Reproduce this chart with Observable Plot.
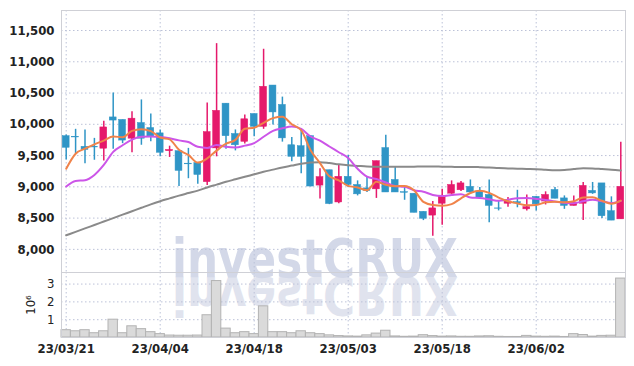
<!DOCTYPE html>
<html><head><meta charset="utf-8">
<script src="https://cdn.jsdelivr.net/npm/d3@7"></script>
<script src="https://cdn.jsdelivr.net/npm/@observablehq/plot@0.6"></script>
<style>
body{margin:0;background:#fff;}
#wrap{position:relative;width:634px;height:366px;overflow:hidden;}
#wm{position:absolute;left:0;top:0;}
#charts{position:absolute;left:0;top:0;}
#charts svg{display:block}
</style></head><body>
<div id="wrap">
<svg id="wm" width="634" height="366">
  <text id="wmtext" x="315" y="277" text-anchor="middle" font-family="DejaVu Sans" font-weight="bold" font-size="54" fill="#d3d8e8" textLength="286" lengthAdjust="spacingAndGlyphs">investCRUX</text>
  <use href="#wmtext" transform="translate(0,554) scale(1,-1)" opacity="0.7"/>
</svg>
<div id="charts"></div>
</div>
<script>
const dates = ["23/03/21","23/03/22","23/03/23","23/03/24","23/03/27","23/03/28","23/03/29","23/03/30","23/03/31","23/04/03",
"23/04/04","23/04/05","23/04/06","23/04/07","23/04/10","23/04/11","23/04/12","23/04/13","23/04/14","23/04/17",
"23/04/18","23/04/19","23/04/20","23/04/21","23/04/24","23/04/25","23/04/26","23/04/27","23/04/28","23/05/02",
"23/05/03","23/05/04","23/05/08","23/05/09","23/05/10","23/05/11","23/05/12","23/05/15","23/05/16","23/05/17",
"23/05/18","23/05/19","23/05/22","23/05/23","23/05/24","23/05/25","23/05/26","23/05/30","23/05/31","23/06/01",
"23/06/02","23/06/05","23/06/07","23/06/08","23/06/09","23/06/12","23/06/13","23/06/14","23/06/15","23/06/16"];
const open  = [9810,9800,9640,9640,9610,10110,10070,9770,10020,9940, 9855,9570,9570,9370,9380,9075,9615,10330,9845,9720,
10165,9960,10620,10310,9665,9650,9810,9020,9265,8750, 9160,9030,8975,8960,9620,9110,8915,8890,8600,8540,
8730,8890,8945,9000,8925,8870,8655,8730,8755,8640, 8840,8765,8950,8815,8695,8730,8935,9055,8610,8480];
const high  = [9830,9920,9910,9775,10050,10500,10070,10200,10390,10165, 9910,9650,9570,9615,9380,10340,11290,10330,9910,10150,
10165,11200,10620,10435,9790,9910,9815,9290,9265,9350, 9500,9095,9160,9410,9825,9310,9000,8890,8600,8765,
8960,9095,9085,9110,8990,9110,8775,8830,8945,8870, 8840,8920,8990,8855,8855,9070,9070,9055,8840,9715];
const low   = [9430,9530,9370,9425,9415,9600,9690,9545,9665,9720, 9480,9470,9005,9130,9040,9020,9480,9600,9575,9685,
9800,9920,9990,9715,9400,9210,9000,8805,8715,8730, 8990,8855,8910,8815,8910,8910,8785,8585,8460,8210,
8385,8880,8925,8880,8800,8425,8615,8675,8665,8615, 8615,8710,8810,8640,8695,8460,8880,8495,8460,8480];
const close = [9625,9790,9590,9630,9950,10060,9740,10090,9770,9800, 9545,9590,9255,9360,9190,9875,10215,9810,9665,10080,
9960,10600,10190,9775,9480,9480,9005,9155,8725,9160, 9030,8880,8935,9410,8910,8910,8905,8585,8490,8655,
8855,9030,9055,8910,8830,8695,8650,8765,8735,8675, 8720,8870,8810,8695,8750,9015,8895,8530,8460,9000];
const volume = [410000,350000,410000,240000,350000,1000000,240000,630000,470000,300000,
190000,110000,100000,100000,110000,1250000,3170000,500000,240000,300000,
190000,1750000,300000,300000,240000,350000,240000,190000,120000,80000,
60000,50000,120000,220000,380000,60000,40000,50000,130000,80000,
50000,60000,40000,40000,60000,70000,40000,30000,30000,90000,
50000,40000,50000,30000,190000,140000,50000,90000,100000,3310000];
const ma5  = [9290,9530,9610,9680,9740,9804,9794,9894,9922,9892, 9789,9759,9592,9510,9388,9454,9579,9690,9751,9929,
9946,10023,10099,10121,10001,9905,9586,9379,9169,9105, 9015,8990,8946,9083,9033,9009,9014,8944,8760,8709,
8698,8723,8817,8901,8936,8904,8828,8770,8735,8704, 8709,8753,8762,8754,8769,8828,8833,8777,8730,8780];
const ma10 = [9005,9095,9105,9190,9350,9560,9665,9755,9800,9804, 9797,9777,9743,9716,9640,9622,9669,9641,9631,9659,
9700,9801,9895,9936,9965,9926,9805,9739,9645,9553, 9460,9288,9163,9126,9069,9012,9002,8945,8922,8871,
8854,8869,8881,8831,8823,8801,8776,8794,8818,8820, 8807,8791,8766,8745,8737,8769,8793,8770,8742,8775];
const ma60 = [8225,8280,8335,8390,8445,8500,8555,8610,8665,8720, 8770,8815,8860,8900,8940,8990,9035,9080,9120,9160,
9200,9240,9275,9310,9340,9370,9390,9395,9380,9360, 9345,9335,9325,9320,9320,9320,9320,9322,9325,9325,
9322,9320,9318,9318,9315,9310,9300,9295,9290,9285, 9280,9272,9265,9270,9285,9298,9295,9285,9275,9262];
const priceTicks = [8000,8500,9000,9500,10000,10500,11000,11500];
const dateTicks = ["23/03/21","23/04/04","23/04/18","23/05/03","23/05/18","23/06/02"];
const volTicks = [1000000,2000000,3000000];

const RED = "#e5196b", BLUE = "#2f95c6", GRID = "#bcc2d8", FRAME = "#cfd0d6";
const FONT = "'DejaVu Sans',sans-serif";
const rows = dates.map((d,i)=>({date:d,open:open[i],high:high[i],low:low[i],close:close[i],volume:volume[i],ma5:ma5[i],ma10:ma10[i],ma60:ma60[i]}));
const col = d => d.close >= d.open ? RED : BLUE;
const dash = {stroke: GRID, strokeOpacity: 1, strokeDasharray: "1.5,2.5"};
const st = {background:"transparent", fontFamily: FONT, fontSize:"13px", fontStretch:"condensed", fontWeight:"bold", color:"#222", overflow:"visible"};

const price = Plot.plot({
  width:634, height:272, marginTop:10, marginBottom:0, marginLeft:61, marginRight:9,
  style: st,
  color:{type:"identity"},
  x:{type:"band", domain:dates, paddingInner:0.27, paddingOuter:0.135, round:false, axis:null},
  y:{domain:[7630,11820], axis:null},
  marks:[
    Plot.gridY(priceTicks, dash),
    Plot.gridX(dateTicks, dash),
    Plot.frame({stroke:FRAME}),
    Plot.ruleX(rows,{x:"date", y1:"low", y2:"high", stroke:col, strokeWidth:1.5}),
    Plot.barY(rows,{x:"date", y1:"open", y2:"close", fill:col, stroke:col, strokeWidth:0.5}),
    Plot.line(rows,{x:"date", y:"ma60", stroke:"#8a8a8a", strokeWidth:2, curve:"monotone-x"}),
    Plot.line(rows,{x:"date", y:"ma10", stroke:"#cc55e8", strokeWidth:2, curve:"monotone-x"}),
    Plot.line(rows,{x:"date", y:"ma5", stroke:"#f0834a", strokeWidth:2, curve:"monotone-x"}),
    Plot.axisY(priceTicks,{tickSize:0, tickPadding:7, tickFormat:d3.format(","), fill:"#222", label:null})
  ]
});
const vol = Plot.plot({
  width:634, height:94, marginTop:0, marginBottom:29, marginLeft:61, marginRight:9,
  style: st,
  x:{type:"band", domain:dates, padding:0, round:false, axis:null},
  y:{domain:[0,3650000], axis:null},
  marks:[
    Plot.gridY(volTicks, dash),
    Plot.gridX(dateTicks, dash),
    Plot.barY(rows,{x:"date", y:"volume", fill:"#dadada", stroke:"#b3b3b3", strokeWidth:1, inset:0}),
    Plot.frame({stroke:FRAME}),
    Plot.axisY(volTicks,{tickSize:0, tickPadding:7, tickFormat:d=>d/1e6, fill:"#222", label:"10⁶", labelAnchor:"center", labelOffset:36, labelArrow:"none", fontWeight:"normal"}),
    Plot.axisX(dateTicks,{tickSize:0, tickPadding:6, fill:"#222", label:null})
  ]
});
document.getElementById("charts").append(price, vol);
</script>
</body></html>
